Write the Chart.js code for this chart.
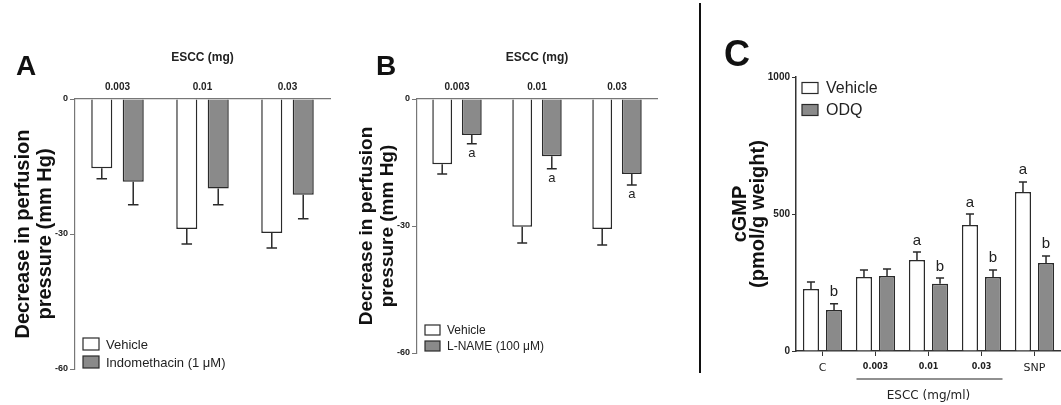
<!DOCTYPE html>
<html>
<head>
<meta charset="utf-8">
<script src="https://cdn.jsdelivr.net/npm/chart.js@4"></script>
<style>
  body { margin: 0; background: #fff; width: 1061px; height: 405px; overflow: hidden; position: relative; font-family: "Liberation Sans", Arial, sans-serif; }
  .panel { position: absolute; top: 0; height: 405px; }
  .letter { position: absolute; font-weight: bold; line-height: 1; color: #111; }
  #divider { position: absolute; left: 699px; top: 3px; width: 2px; height: 370px; background: #111; }
</style>
</head>
<body>
<div class="panel" style="left:0px;width:345px"><canvas id="chartA"></canvas></div>
<div class="panel" style="left:350px;width:322px"><canvas id="chartB"></canvas></div>
<div class="panel" style="left:705px;width:356px"><canvas id="chartC"></canvas></div>
<div id="divider"></div>
<div class="letter" style="left:16px;top:52px;font-size:28px">A</div>
<div class="letter" style="left:376px;top:52px;font-size:28px">B</div>
<div class="letter" style="left:724px;top:36px;font-size:36px">C</div>
<script>
// panel A / B: doses of ESCC (mg)
var doseLabels = ['0.003', '0.01', '0.03']
var vehicleA = [-15.4, -28.9, -29.8]
var vehicleAErr = [2.3, 3.3, 3.3]
var indoA = [-18.4, -19.9, -21.3]
var indoAErr = [5.1, 3.6, 5.3]

var vehicleB = [-15.4, -30.2, -30.7]
var vehicleBErr = [2.3, 3.8, 3.8]
var lnameB = [-8.5, -13.5, -17.7]
var lnameBErr = [2.1, 3.0, 2.6]
var lnameMarks = ['a', 'a', 'a']

// panel C: cGMP
var groupsC = ['C', '0.003', '0.01', '0.03', 'SNP']
var vehicleC = [226, 270, 332, 460, 580]
var vehicleCErr = [26, 26, 29, 40, 37]
var vehicleCMarks = ['', '', 'a', 'a', 'a']
var odqC = [150, 274, 245, 270, 321]
var odqCErr = [22, 25, 21, 26, 26]
var odqCMarks = ['b', '', 'b', 'b', 'b']

var GRAY = '#8a8a8a'
var EDGE = '#2a2a2a'

// error bars + significance letters
var errorBars = {
    id: 'errorBars',
    afterDatasetsDraw(chart, args, opts) {
        var ctx = chart.ctx
        var y = chart.scales.y
        chart.data.datasets.forEach((ds, di) => {
            var meta = chart.getDatasetMeta(di)
            meta.data.forEach((bar, i) => {
                var v = ds.data[i]
                var e = ds.err[i]
                var end = y.getPixelForValue(v < 0 ? v - e : v + e)
                var cap = bar.width * 0.25
                ctx.save()
                ctx.strokeStyle = EDGE
                ctx.lineWidth = 1.5
                ctx.beginPath()
                ctx.moveTo(bar.x, bar.y)
                ctx.lineTo(bar.x, end)
                ctx.moveTo(bar.x - cap, end)
                ctx.lineTo(bar.x + cap, end)
                ctx.stroke()
                if (ds.marks && ds.marks[i]) {
                    ctx.fillStyle = '#222'
                    ctx.font = opts.font
                    ctx.textAlign = 'center'
                    ctx.textBaseline = 'alphabetic'
                    ctx.fillText(ds.marks[i], bar.x, end + opts.gap)
                }
                ctx.restore()
            })
        })
    }
}

// legend drawn inside the plot area
var boxLegend = {
    id: 'boxLegend',
    afterDraw(chart, args, o) {
        var ctx = chart.ctx
        var a = chart.chartArea
        chart.data.datasets.forEach((ds, i) => {
            var cy = (o.fromTop ? a.top : a.bottom) + o.rows[i]
            var x = a.left + o.x
            ctx.save()
            ctx.fillStyle = ds.backgroundColor
            ctx.fillRect(x, cy - o.h / 2, o.w, o.h)
            ctx.strokeStyle = EDGE
            ctx.lineWidth = 1.2
            ctx.strokeRect(x, cy - o.h / 2, o.w, o.h)
            ctx.fillStyle = '#222'
            ctx.font = o.font
            ctx.textBaseline = 'middle'
            ctx.fillText(ds.label, x + o.w + o.gap, cy + 1)
            ctx.restore()
        })
    }
}

// bracket line under the ESCC doses in panel C
var bracket = {
    id: 'bracket',
    afterDraw(chart, args, o) {
        if (!o.show) return
        var ctx = chart.ctx
        var x = chart.scales.x
        var yy = chart.chartArea.bottom + 28
        ctx.save()
        ctx.strokeStyle = '#222'
        ctx.lineWidth = 1.2
        ctx.beginPath()
        ctx.moveTo(x.getPixelForValue(1) - 19, yy)
        ctx.lineTo(x.getPixelForValue(3) + 21, yy)
        ctx.stroke()
        ctx.restore()
    }
}

function pressureChart(id, vData, vErr, tData, tErr, tLabel, tMarks, yw, titleSize, titlePad, padBottom, legendRows, legendFont, legendBox) {
    return new Chart(id, {
        type: 'bar',
        data: {
            labels: doseLabels,
            datasets: [{
                label: 'Vehicle',
                data: vData,
                err: vErr,
                backgroundColor: '#ffffff',
                borderColor: EDGE,
                borderWidth: 1.5
            }, {
                label: tLabel,
                data: tData,
                err: tErr,
                marks: tMarks,
                backgroundColor: GRAY,
                borderColor: EDGE,
                borderWidth: 1.5
            }]
        },
        options: {
            responsive: true,
            maintainAspectRatio: false,
            animation: false,
            layout: { padding: { left: 0, top: 0, right: 15, bottom: padBottom } },
            datasets: { bar: { categoryPercentage: 0.74, barPercentage: 0.67 } },
            plugins: {
                legend: { display: false },
                tooltip: { enabled: false },
                errorBars: { font: '13px "Liberation Sans", Arial', gap: 13.5 },
                boxLegend: { x: 8, rows: legendRows, w: legendBox[0], h: legendBox[1], gap: 7, font: legendFont },
                bracket: { show: false }
            },
            scales: {
                x: {
                    position: 'top',
                    grid: { display: false, drawTicks: false },
                    border: { display: true, color: '#777', width: 1.2 },
                    ticks: { color: '#222', padding: 6, font: { family: 'Liberation Sans', size: 10, weight: 'bold' } },
                    title: { display: true, text: 'ESCC (mg)', color: '#222', padding: { top: 50 }, font: { family: 'Liberation Sans', size: 12, weight: 'bold' } },
                    afterFit: s => { s.height = 99 }
                },
                y: {
                    min: -60,
                    max: 0,
                    ticks: { stepSize: 30, color: '#222', padding: 2, font: { family: 'Liberation Sans', size: 9, weight: 'bold' } },
                    grid: { drawOnChartArea: false, tickLength: 5, color: '#777' },
                    border: { color: '#777', width: 1.2 },
                    title: {
                        display: true,
                        text: ['Decrease in perfusion', 'pressure (mm Hg)'],
                        color: '#111',
                        padding: { top: titlePad },
                        font: { family: 'Liberation Sans', size: titleSize, weight: 'bold', lineHeight: 1.1 }
                    },
                    afterFit: s => { s.width = yw }
                }
            }
        },
        plugins: [errorBars, boxLegend, bracket]
    })
}

pressureChart('chartA', vehicleA, vehicleAErr, indoA, indoAErr, 'Indomethacin (1 \u03bcM)', null,
    75, 20, 12, 36, [-25, -7], '13px "Liberation Sans", Arial', [16, 12])
pressureChart('chartB', vehicleB, vehicleBErr, lnameB, lnameBErr, 'L-NAME (100 \u03bcM)', lnameMarks,
    67, 19, 6.5, 52, [-23, -7], '12px "Liberation Sans", Arial', [15, 10])

new Chart('chartC', {
    type: 'bar',
    data: {
        labels: groupsC,
        datasets: [{
            label: 'Vehicle',
            data: vehicleC,
            err: vehicleCErr,
            marks: vehicleCMarks,
            backgroundColor: '#ffffff',
            borderColor: EDGE,
            borderWidth: 1.5
        }, {
            label: 'ODQ',
            data: odqC,
            err: odqCErr,
            marks: odqCMarks,
            backgroundColor: GRAY,
            borderColor: EDGE,
            borderWidth: 1.5
        }]
    },
    options: {
        responsive: true,
        maintainAspectRatio: false,
        animation: false,
        layout: { padding: { left: 0, top: 77, right: 0, bottom: 0 } },
        datasets: { bar: { categoryPercentage: 0.87, barPercentage: 0.7 } },
        plugins: {
            legend: { display: false },
            tooltip: { enabled: false },
            errorBars: { font: '15px "Liberation Sans", Arial', gap: -7.5 },
            boxLegend: { fromTop: true, x: 6, rows: [11, 33], w: 16, h: 11, gap: 8, font: '16px "Liberation Sans", Arial' },
            bracket: { show: true }
        },
        scales: {
            x: {
                grid: { offset: false, drawOnChartArea: false, tickLength: 5, color: '#333' },
                border: { color: '#333', width: 1.5 },
                ticks: {
                    color: '#222',
                    padding: 6,
                    font: c => (c.index === 0 || c.index === 4)
                        ? { family: 'DejaVu Sans', size: 11 }
                        : { family: 'DejaVu Sans', size: 8, weight: 'bold' }
                },
                title: { display: true, text: 'ESCC (mg/ml)', color: '#222', padding: { bottom: 2 }, font: { family: 'DejaVu Sans', size: 12 } },
                afterFit: s => { s.height = 54 }
            },
            y: {
                min: 0,
                max: 1000,
                ticks: { stepSize: 500, color: '#222', padding: 2, callback: v => String(v), font: { family: 'Liberation Sans', size: 10, weight: 'bold' } },
                grid: { drawOnChartArea: false, tickLength: 4, color: '#333' },
                border: { color: '#333', width: 1.5 },
                title: {
                    display: true,
                    text: ['cGMP', '(pmol/g weight)'],
                    color: '#111',
                    padding: { top: 26 },
                    font: { family: 'Liberation Sans', size: 20, weight: 'bold', lineHeight: 0.9 }
                },
                afterFit: s => { s.width = 91 }
            }
        }
    },
    plugins: [errorBars, boxLegend, bracket]
})
</script>
</body>
</html>
